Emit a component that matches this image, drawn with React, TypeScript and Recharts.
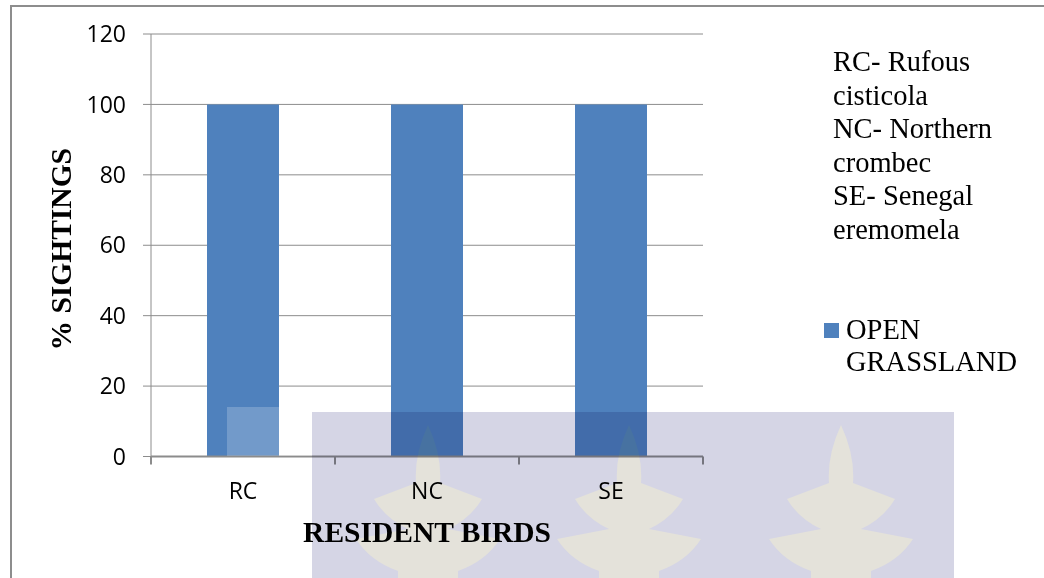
import React from 'react';
import { BarChart, Bar, XAxis, YAxis, CartesianGrid, Legend } from 'recharts';

const categories = ['RC', 'NC', 'SE'];
const openGrassland = [100, 100, 100];
const yTicks = [0, 20, 40, 60, 80, 100, 120];
const speciesNotes = ['RC- Rufous cisticola', 'NC- Northern crombec', 'SE- Senegal eremomela'];

const SERIES_NAME = 'OPEN GRASSLAND';
const BAR_COLOR = '#4f81bd';
const AXIS_GRAY = '#8c8c8c';
const SERIF = '"Liberation Serif", "Times New Roman", serif';
const SANS = '"Open Sans", "Liberation Sans", sans-serif';

const TICK_SIZE = 8;
const X_TICK_MARGIN = 18.5;
const TICK_FONT = 23;

const data = categories.map((name, i) => ({ name, openGrassland: openGrassland[i] }));

// Category label at the band centre, tick marks on the band edges (Excel style)
function CategoryTick(props: any) {
  const { x, y, payload, index, width, visibleTicksCount } = props;
  const band = (width ?? 552) / (visibleTicksCount ?? categories.length);
  const axisY = y - TICK_SIZE - X_TICK_MARGIN;
  return (
    <g>
      {index === 0 && (
        <line x1={x - band / 2} x2={x - band / 2} y1={axisY} y2={axisY + TICK_SIZE} stroke={AXIS_GRAY} strokeWidth={2} />
      )}
      <line x1={x + band / 2} x2={x + band / 2} y1={axisY} y2={axisY + TICK_SIZE} stroke={AXIS_GRAY} strokeWidth={2} />
      <text x={x} y={y} dy="0.71em" textAnchor="middle" fill="#000" fontSize={TICK_FONT} fontFamily={SANS}>
        {payload.value}
      </text>
    </g>
  );
}

function LegendBox() {
  return (
    <div style={{ display: 'flex', alignItems: 'flex-start', fontFamily: SERIF, fontSize: 28.5, lineHeight: '32px', color: '#000' }}>
      <span style={{ width: 15, height: 15, background: BAR_COLOR, marginTop: 9, marginRight: 7, flex: 'none' }} />
      <span style={{ width: 190 }}>{SERIES_NAME}</span>
    </div>
  );
}

function leafPath(cx: number, top: number) {
  const p = (dx: number, dy: number) => `${cx + dx},${top + dy}`;
  return [
    `M${p(0, 0)}`,
    `Q${p(14, 30)} ${p(12, 58)}`,
    `L${p(54, 74)}`,
    `Q${p(42, 94)} ${p(20, 104)}`,
    `L${p(72, 114)}`,
    `Q${p(58, 136)} ${p(30, 146)}`,
    `L${p(30, 160)} L${p(-30, 160)} L${p(-30, 146)}`,
    `Q${p(-58, 136)} ${p(-72, 114)}`,
    `L${p(-20, 104)}`,
    `Q${p(-42, 94)} ${p(-54, 74)}`,
    `L${p(-12, 58)}`,
    `Q${p(-14, 30)} ${p(0, 0)} Z`,
  ].join(' ');
}

export default function App() {
  return (
    <div style={{ position: 'absolute', left: 0, top: 0, width: 1044, height: 578, background: '#fff', overflow: 'hidden' }}>
      <div style={{ position: 'absolute', left: 10, top: 5, right: 0, bottom: 0, borderTop: '2px solid #8d8d8d', borderLeft: '2px solid #8d8d8d' }} />

      <div style={{ position: 'absolute', left: 833, top: 45, width: 200, fontFamily: SERIF, fontSize: 28.5, lineHeight: '33.6px', color: '#000' }}>
        {speciesNotes.map((note) => (
          <div key={note} style={{ width: 180 }}>{note}</div>
        ))}
      </div>

      <div style={{ position: 'absolute', left: 0, top: 0 }}>
        <BarChart width={1044} height={578} data={data} margin={{ top: 34, right: 341, bottom: 91.5, left: 10 }} barSize={72}>
          <CartesianGrid vertical={false} stroke={AXIS_GRAY} />
          <XAxis
            dataKey="name"
            height={30}
            interval={0}
            tickSize={TICK_SIZE}
            tickMargin={X_TICK_MARGIN}
            tickLine={false}
            axisLine={{ stroke: AXIS_GRAY, strokeWidth: 2 }}
            tick={<CategoryTick />}
            label={{
              content: ({ viewBox }: any) => (
                <text x={viewBox.x + viewBox.width / 2} y={viewBox.y + 85.5} textAnchor="middle" fontFamily={SERIF} fontWeight="bold" fontSize={29.5} fill="#000">
                  RESIDENT BIRDS
                </text>
              ),
            }}
          />
          <YAxis
            width={141}
            domain={[0, 120]}
            ticks={yTicks}
            interval={0}
            tickSize={TICK_SIZE}
            tickMargin={17}
            tickLine={{ stroke: AXIS_GRAY }}
            axisLine={{ stroke: AXIS_GRAY }}
            tick={{ fill: '#000', fontSize: TICK_FONT, fontFamily: SANS }}
            label={{
              content: ({ viewBox }: any) => {
                const lx = viewBox.x + 61;
                const ly = viewBox.y + viewBox.height / 2 + 4;
                return (
                  <text x={lx} y={ly} transform={`rotate(-90 ${lx} ${ly})`} textAnchor="middle" fontFamily={SERIF} fontWeight="bold" fontSize={29.5} fill="#000">
                    % SIGHTINGS
                  </text>
                );
              },
            }}
          />
          <Bar dataKey="openGrassland" name={SERIES_NAME} fill={BAR_COLOR} isAnimationActive={false} />
          <Legend layout="vertical" align="center" verticalAlign="middle" wrapperStyle={{ left: 824, top: 314, width: 215 }} content={<LegendBox />} />
        </BarChart>
      </div>

      {/* faint crest printed across the lower part of the page */}
      <svg width={1044} height={578} style={{ position: 'absolute', left: 0, top: 0, pointerEvents: 'none' }}>
        <rect x={227} y={407} width={85} height={49} fill="rgba(255,255,255,0.2)" />
        <g style={{ mixBlendMode: 'multiply' }}>
          <rect x={312} y={412} width={642} height={166} fill="#d5d5e5" />
          {[428, 629, 841].map((cx) => (
            <path key={cx} d={leafPath(cx, 425)} fill="#e4e2da" />
          ))}
        </g>
      </svg>
    </div>
  );
}
